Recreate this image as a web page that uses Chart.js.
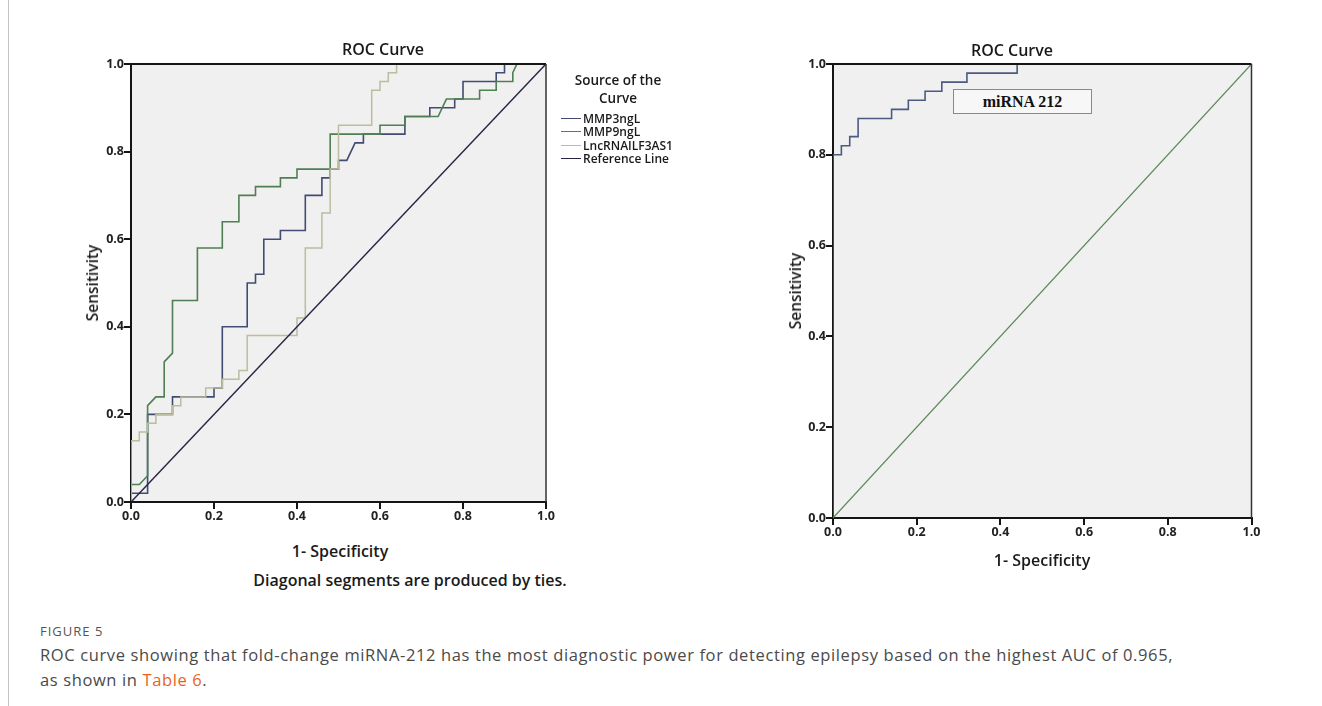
<!DOCTYPE html>
<html lang="en">

<head>
    <meta charset="UTF-8">
    <title>ROC Curves</title>
    <script src="https://cdn.jsdelivr.net/npm/chart.js"></script>
    <style>
        body { margin: 0; background: #fff; font-family: "Open Sans", sans-serif; }
        .page { position: relative; width: 1322px; height: 706px; overflow: hidden; }
        .box { position: absolute; }
        .lbl { position: absolute; transform: translate(-50%, -50%); white-space: nowrap; color: #1a1a1a; font-weight: 600; }
        .rot { transform: translate(-50%, -50%) rotate(-90deg); }
        .legend { position: absolute; left: 558px; top: 70px; font-size: 12px; font-weight: 600; color: #1a1a1a; }
        .legend .row { position: absolute; left: 0; white-space: nowrap; }
        .legend .swatch { position: absolute; left: 3px; width: 20px; height: 0; border-top: 1.6px solid; }
        .legend .txt { position: absolute; left: 25px; transform: translateY(-50%); }
        .mirbox { position: absolute; left: 953px; top: 89px; width: 137px; height: 23px; border: 1px solid #8a8a8a;
            background: #f7f7f7; font-family: "Liberation Serif", serif; font-weight: bold; font-size: 16px;
            line-height: 23px; text-align: center; color: #111; }
        .edge { position: absolute; left: 8px; top: 0; width: 1px; height: 706px; background: #c4c4c4; }
        .fig { position: absolute; left: 40px; top: 622px; font-size: 13px; color: #555; letter-spacing: 1px; }
        .cap { position: absolute; left: 40px; top: 642px; font-size: 16.5px; line-height: 25px; color: #4a4a4a; letter-spacing: 0.62px; }
        .cap span { color: #e8641e; }
    </style>
</head>

<body>
    <div class="page">
        <div class="edge"></div>

        <!-- left chart -->
        <div class="box" style="left:0;top:0;width:700px;height:540px;"><canvas id="leftChart"></canvas></div>
        <div class="lbl" style="left:383px;top:49px;font-size:16px;">ROC Curve</div>
        <div class="lbl" style="left:340px;top:551px;font-size:16px;">1- Specificity</div>
        <div class="lbl" style="left:410px;top:580px;font-size:16px;">Diagonal segments are produced by ties.</div>
        <div class="lbl rot" style="left:92px;top:283px;font-size:15.5px;">Sensitivity</div>

        <div class="legend">
            <div class="lbl" style="left:60px;top:10px;font-size:13.5px;">Source of the</div>
            <div class="lbl" style="left:60px;top:28px;font-size:13.5px;">Curve</div>
            <div class="row" style="top:47.5px;"><div class="swatch" style="border-color:#424c72"></div><div class="txt">MMP3ngL</div></div>
            <div class="row" style="top:61px;"><div class="swatch" style="border-color:#4f7f52"></div><div class="txt">MMP9ngL</div></div>
            <div class="row" style="top:74.5px;"><div class="swatch" style="border-color:#bcbc9e"></div><div class="txt">LncRNAILF3AS1</div></div>
            <div class="row" style="top:88px;"><div class="swatch" style="border-color:#2a2444"></div><div class="txt">Reference Line</div></div>
        </div>

        <!-- right chart -->
        <div class="box" style="left:700px;top:0;width:622px;height:558px;"><canvas id="rightChart"></canvas></div>
        <div class="lbl" style="left:1012px;top:50px;font-size:16px;">ROC Curve</div>
        <div class="lbl" style="left:1042px;top:560px;font-size:16px;">1- Specificity</div>
        <div class="lbl rot" style="left:795px;top:291px;font-size:15.5px;">Sensitivity</div>
        <div class="mirbox">miRNA 212</div>

        <div class="fig">FIGURE 5</div>
        <div class="cap">ROC curve showing that fold-change miRNA-212 has the most diagnostic power for detecting epilepsy based on the highest AUC of 0.965,<br>as shown in <span>Table 6</span>.</div>
    </div>

    <script>
        // axis ticks
        const tickValues = [0, 0.2, 0.4, 0.6, 0.8, 1.0];

        // MMP3ngL curve (1 - specificity, sensitivity)
        const mmp3X = [0, 0, 0.04, 0.04, 0.10, 0.10, 0.20, 0.20, 0.22, 0.22, 0.28, 0.28, 0.30, 0.30, 0.32, 0.32, 0.36, 0.36, 0.42, 0.42, 0.46, 0.46, 0.48, 0.48, 0.50, 0.50, 0.52, 0.54, 0.56, 0.56, 0.66, 0.66, 0.72, 0.72, 0.78, 0.78, 0.80, 0.80, 0.88, 0.88, 0.90, 0.90, 1.0];
        const mmp3Y = [0, 0.02, 0.02, 0.20, 0.20, 0.24, 0.24, 0.26, 0.26, 0.40, 0.40, 0.50, 0.50, 0.52, 0.52, 0.60, 0.60, 0.62, 0.62, 0.70, 0.70, 0.74, 0.74, 0.76, 0.76, 0.78, 0.78, 0.82, 0.82, 0.84, 0.84, 0.88, 0.88, 0.90, 0.90, 0.92, 0.92, 0.96, 0.96, 0.98, 0.98, 1.0, 1.0];

        // MMP9ngL curve
        const mmp9X = [0, 0, 0.02, 0.04, 0.04, 0.06, 0.08, 0.08, 0.10, 0.10, 0.16, 0.16, 0.22, 0.22, 0.26, 0.26, 0.30, 0.30, 0.36, 0.36, 0.40, 0.40, 0.48, 0.48, 0.60, 0.60, 0.66, 0.66, 0.74, 0.76, 0.84, 0.84, 0.88, 0.88, 0.92, 0.92, 0.93, 1.0];
        const mmp9Y = [0, 0.04, 0.04, 0.06, 0.22, 0.24, 0.24, 0.32, 0.34, 0.46, 0.46, 0.58, 0.58, 0.64, 0.64, 0.70, 0.70, 0.72, 0.72, 0.74, 0.74, 0.76, 0.76, 0.84, 0.84, 0.86, 0.86, 0.88, 0.88, 0.92, 0.92, 0.94, 0.94, 0.96, 0.96, 0.98, 1.0, 1.0];

        // LncRNAILF3AS1 curve
        const lncX = [0, 0, 0.02, 0.02, 0.04, 0.04, 0.06, 0.06, 0.10, 0.10, 0.12, 0.12, 0.18, 0.18, 0.22, 0.22, 0.26, 0.26, 0.28, 0.28, 0.40, 0.40, 0.42, 0.42, 0.46, 0.46, 0.48, 0.48, 0.50, 0.50, 0.58, 0.58, 0.60, 0.60, 0.62, 0.62, 0.64, 0.64, 1.0];
        const lncY = [0, 0.14, 0.14, 0.16, 0.16, 0.18, 0.18, 0.20, 0.20, 0.22, 0.22, 0.24, 0.24, 0.26, 0.26, 0.28, 0.28, 0.30, 0.30, 0.38, 0.38, 0.42, 0.42, 0.58, 0.58, 0.66, 0.66, 0.76, 0.76, 0.86, 0.86, 0.94, 0.94, 0.96, 0.96, 0.98, 0.98, 1.0, 1.0];

        // miRNA 212 curve
        const mirX = [0, 0, 0.02, 0.02, 0.04, 0.04, 0.06, 0.06, 0.14, 0.14, 0.18, 0.18, 0.22, 0.22, 0.26, 0.26, 0.32, 0.32, 0.44, 0.44, 1.0];
        const mirY = [0, 0.80, 0.80, 0.82, 0.82, 0.84, 0.84, 0.88, 0.88, 0.90, 0.90, 0.92, 0.92, 0.94, 0.94, 0.96, 0.96, 0.98, 0.98, 1.0, 1.0];

        // reference (chance) line
        const refX = [0, 1];
        const refY = [0, 1];

        function pts(xs, ys) {
            return xs.map((x, i) => ({ x: x, y: ys[i] }));
        }

        function line(data, color, width) {
            return { data: data, borderColor: color, borderWidth: width, pointRadius: 0, fill: false, tension: 0 };
        }

        // grey plot area + top/right frame
        const plotFrame = {
            id: 'plotFrame',
            beforeDraw(chart) {
                const a = chart.chartArea, ctx = chart.ctx;
                ctx.save();
                ctx.fillStyle = '#f0f0f0';
                ctx.fillRect(a.left, a.top, a.right - a.left, a.bottom - a.top);
                ctx.restore();
            },
            afterDatasetsDraw(chart) {
                const a = chart.chartArea, ctx = chart.ctx;
                ctx.save();
                ctx.strokeStyle = '#151515';
                ctx.lineWidth = 2;
                ctx.beginPath();
                ctx.moveTo(a.left, a.top);
                ctx.lineTo(a.right, a.top);
                ctx.stroke();
                ctx.lineWidth = 1.5;
                ctx.strokeStyle = '#333';
                ctx.beginPath();
                ctx.moveTo(a.right, a.top);
                ctx.lineTo(a.right, a.bottom);
                ctx.stroke();
                ctx.restore();
            }
        };

        function axes(xHeight) {
            const tickFont = { family: '"Open Sans", sans-serif', size: 12.5, weight: 'bold' };
            const common = {
                type: 'linear', min: 0, max: 1,
                border: { display: true, color: '#151515', width: 2 },
                grid: { drawOnChartArea: false, drawTicks: true, tickLength: 7, color: '#151515', lineWidth: 2 },
                afterBuildTicks(s) { s.ticks = tickValues.map(v => ({ value: v })); },
                ticks: { color: '#222', font: tickFont, callback: v => v.toFixed(1) }
            };
            return {
                x: Object.assign({}, common, {
                    ticks: Object.assign({}, common.ticks, { padding: 0, maxRotation: 0 }),
                    afterFit(s) { s.height = xHeight; }
                }),
                y: Object.assign({}, common, {
                    ticks: Object.assign({}, common.ticks, { padding: 0 }),
                    afterFit(s) { s.width = 61; }
                })
            };
        }

        const baseOpts = {
            responsive: true,
            maintainAspectRatio: false,
            animation: false,
            plugins: { legend: { display: false }, tooltip: { enabled: false } }
        };

        new Chart(document.getElementById('leftChart'), {
            type: 'line',
            data: {
                datasets: [
                    line(pts(refX, refY), '#2a2444', 1.5),
                    line(pts(lncX, lncY), '#bcbc9e', 1.5),
                    line(pts(mmp9X, mmp9Y), '#4f7f52', 1.6),
                    line(pts(mmp3X, mmp3Y), '#424c72', 1.6)
                ]
            },
            options: Object.assign({}, baseOpts, {
                layout: { padding: { left: 70, top: 64, right: 154, bottom: 0 } },
                scales: axes(38)
            }),
            plugins: [plotFrame]
        });

        new Chart(document.getElementById('rightChart'), {
            type: 'line',
            data: {
                datasets: [
                    line(pts(refX, refY), '#5b8a5b', 1.2),
                    line(pts(mirX, mirY), '#4a5a80', 1.6)
                ]
            },
            options: Object.assign({}, baseOpts, {
                layout: { padding: { left: 72, top: 64, right: 70.5, bottom: 0 } },
                scales: axes(40)
            }),
            plugins: [plotFrame]
        });
    </script>
</body>

</html>
